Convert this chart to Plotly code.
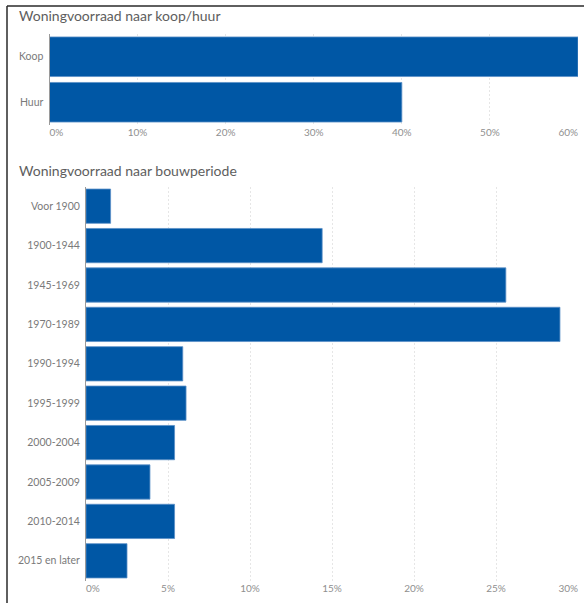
import plotly.graph_objects as go

# Housing stock by tenure
tenure_labels = ["Koop", "Huur"]
tenure_values = [60.0, 40.0]

# Housing stock by construction period
period_labels = ["Voor 1900", "1900-1944", "1945-1969", "1970-1989", "1990-1994",
                 "1995-1999", "2000-2004", "2005-2009", "2010-2014", "2015 en later"]
period_values = [1.5, 14.4, 25.6, 28.9, 5.9, 6.1, 5.4, 3.9, 5.4, 2.5]

tenure_ticks = [0, 10, 20, 30, 40, 50, 60]
period_ticks = [0, 5, 10, 15, 20, 25, 30]

BAR = "#0057a5"
BAR_EDGE = "#5b8fc6"
FONT = "Lato, 'Open Sans', sans-serif"
W, H = 584, 603
TICK_FONT = dict(family=FONT, size=10, color="#8f8f8f")


def px_x(p):
    return p / W


def px_y(p):
    return 1 - p / H


def pct(vals):
    return [f"{v}%" for v in vals]


fig = go.Figure()
fig.add_trace(go.Bar(x=tenure_values, y=tenure_labels, orientation="h",
                     marker=dict(color=BAR, line=dict(width=0.8, color=BAR_EDGE)),
                     xaxis="x", yaxis="y", hoverinfo="x+y"))
fig.add_trace(go.Bar(x=period_values, y=period_labels, orientation="h",
                     marker=dict(color=BAR, line=dict(width=0.8, color=BAR_EDGE)),
                     xaxis="x2", yaxis="y2", hoverinfo="x+y"))

# invisible carriers so the label-only end axes get drawn
for xa, ya, xs, ys in [("x3", "y", tenure_values, tenure_labels),
                       ("x4", "y", tenure_values, tenure_labels),
                       ("x5", "y2", period_values, period_labels),
                       ("x6", "y2", period_values, period_labels)]:
    fig.add_trace(go.Scatter(x=xs, y=ys, xaxis=xa, yaxis=ya, mode="markers",
                             marker=dict(opacity=0, size=1), hoverinfo="skip",
                             showlegend=False))

xcommon = dict(showgrid=True, gridcolor="#e6e6e6", griddash="2px,2px", gridwidth=1,
               zeroline=False, showline=False, ticks="", automargin=False,
               tickfont=TICK_FONT, fixedrange=True)
ycommon = dict(showgrid=False, zeroline=False, showline=True, linecolor="#9a9a9a",
               linewidth=1, ticks="outside", ticklen=3, tickcolor="rgba(0,0,0,0)",
               automargin=False, type="category",
               tickfont=dict(family=FONT, size=10.5, color="#7a7a7a"),
               fixedrange=True)
# label-only axes for the end ticks, so those labels sit inside the plot width
endlabel = dict(showgrid=False, zeroline=False, showline=False, ticks="",
                automargin=False, tickfont=TICK_FONT, fixedrange=True)

top_dom = [px_x(49.5), px_x(578)]
bot_dom = [px_x(86), px_x(578)]

fig.update_layout(
    width=W, height=H,
    margin=dict(l=0, r=0, t=0, b=0, pad=0),
    paper_bgcolor="white", plot_bgcolor="white",
    showlegend=False, bargap=0.13,
    font=dict(family=FONT),
    xaxis=dict(domain=top_dom, range=[0, 60],
               tickvals=tenure_ticks, ticktext=[""] + pct(tenure_ticks[1:-1]) + [""],
               anchor="y", **xcommon),
    yaxis=dict(domain=[px_y(125), px_y(34)], anchor="x",
               range=[len(tenure_labels) - 0.5, -0.5], **ycommon),
    xaxis3=dict(domain=top_dom, range=[0, 60], overlaying="x", anchor="y",
                tickvals=tenure_ticks[:1], ticktext=pct(tenure_ticks[:1]),
                ticklabelposition="outside right", **endlabel),
    xaxis4=dict(domain=top_dom, range=[0, 60], overlaying="x", anchor="y",
                tickvals=tenure_ticks[-1:], ticktext=pct(tenure_ticks[-1:]),
                ticklabelposition="outside left", **endlabel),
    xaxis2=dict(domain=bot_dom, range=[0, 30],
                tickvals=period_ticks, ticktext=[""] + pct(period_ticks[1:-1]) + [""],
                anchor="y2", **xcommon),
    yaxis2=dict(domain=[px_y(580.5), px_y(186.5)], anchor="x2",
                range=[len(period_labels) - 0.5, -0.5], **ycommon),
    xaxis5=dict(domain=bot_dom, range=[0, 30], overlaying="x2", anchor="y2",
                tickvals=period_ticks[:1], ticktext=pct(period_ticks[:1]),
                ticklabelposition="outside right", **endlabel),
    xaxis6=dict(domain=bot_dom, range=[0, 30], overlaying="x2", anchor="y2",
                tickvals=period_ticks[-1:], ticktext=pct(period_ticks[-1:]),
                ticklabelposition="outside left", **endlabel),
    annotations=[
        dict(text="Woningvoorraad naar koop/huur", xref="paper", yref="paper",
             x=px_x(17), y=px_y(16), xanchor="left", yanchor="middle",
             showarrow=False, font=dict(family=FONT, size=14, color="#5e5e5e")),
        dict(text="Woningvoorraad naar bouwperiode", xref="paper", yref="paper",
             x=px_x(17), y=px_y(171), xanchor="left", yanchor="middle",
             showarrow=False, font=dict(family=FONT, size=14, color="#5e5e5e")),
    ],
    shapes=[
        dict(type="line", xref="paper", yref="paper", x0=px_x(7), x1=1,
             y0=px_y(6), y1=px_y(6), line=dict(color="#2a2a2a", width=1.5)),
        dict(type="line", xref="paper", yref="paper", x0=px_x(7), x1=px_x(7),
             y0=px_y(6), y1=0, line=dict(color="#2a2a2a", width=1.5)),
    ],
)

fig.write_html("out.html", config={"displayModeBar": False})
